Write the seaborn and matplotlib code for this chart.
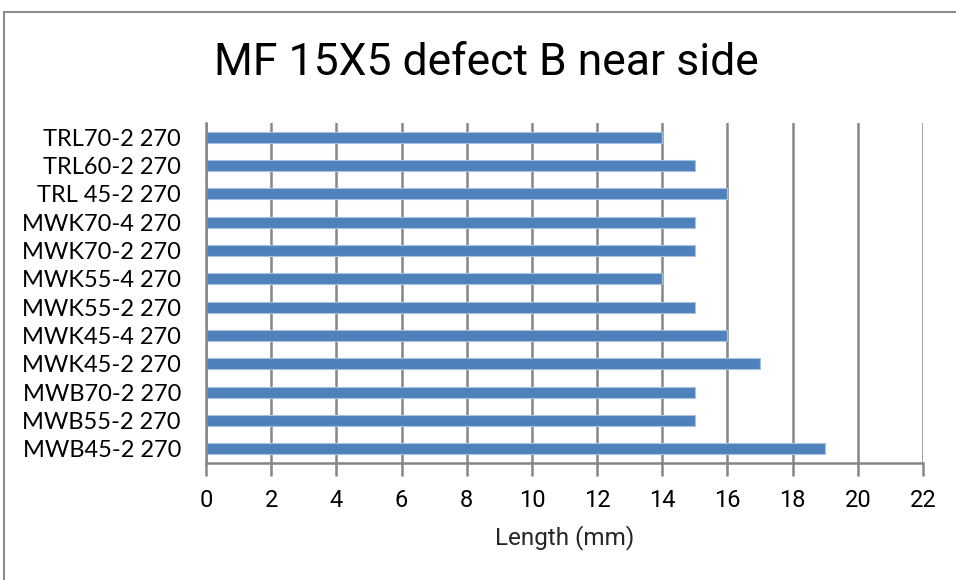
import matplotlib
matplotlib.use("Agg")
import matplotlib.pyplot as plt
from matplotlib.patches import Rectangle
import seaborn as sns
import pandas as pd

categories = ["TRL70-2 270", "TRL60-2 270", "TRL 45-2 270", "MWK70-4 270",
              "MWK70-2 270", "MWK55-4 270", "MWK55-2 270", "MWK45-4 270",
              "MWK45-2 270", "MWB70-2 270", "MWB55-2 270", "MWB45-2 270"]
lengths = [14, 15, 16, 15, 15, 14, 15, 16, 17, 15, 15, 19]
x_ticks = [0, 2, 4, 6, 8, 10, 12, 14, 16, 18, 20, 22]

sns.set_theme(style="white")
plt.rcParams["font.family"] = ["Lato", "DejaVu Sans"]
narrow = ["Roboto", "DejaVu Sans"]

df = pd.DataFrame({"label": categories, "length": lengths})

W, H = 956, 580
fig = plt.figure(figsize=(W / 100, H / 100), dpi=100)
ax = fig.add_axes([206 / W, 1 - 463 / H, (923 - 206) / W, (463 - 123) / H])

sns.barplot(data=df, x="length", y="label", orient="h", color="#4F81BD",
            saturation=1, width=0.39, edgecolor="#A9C0DE", linewidth=0.8,
            ax=ax, zorder=3)

grid_c = "#868686"
ax.set_xlim(0, 22)
ax.set_xticks(x_ticks)
ax.set_xticklabels([str(t) for t in x_ticks], fontfamily=narrow, fontsize=17)
ax.xaxis.grid(True, color=grid_c, linewidth=1.8, zorder=0)
ax.yaxis.grid(False)
for s in ["top", "right"]:
    ax.spines[s].set_visible(False)
ax.spines["left"].set_color(grid_c)
ax.spines["left"].set_linewidth(1.8)
ax.spines["bottom"].set_color(grid_c)
ax.spines["bottom"].set_linewidth(1.8)
ax.spines["left"].set_zorder(4)
ax.tick_params(axis="x", bottom=True, length=9, width=1.8, color=grid_c,
               direction="out", pad=10, labelcolor="black")
ax.tick_params(axis="y", left=False, pad=12, labelsize=17, labelcolor="black")
ax.set_ylabel("")
ax.set_xlabel("Length (mm)", fontfamily=narrow, fontsize=17.5, labelpad=9)

fig.text(486 / W, 1 - 63 / H, "MF 15X5 defect B near side", ha="center",
         va="center", fontsize=32, fontfamily=narrow, color="black")

fig.patches.append(Rectangle((4 / W, -0.05), 1.2, 1 - 12 / H + 0.05,
                             transform=fig.transFigure, fill=False,
                             edgecolor="#8C8C8C", linewidth=1.5))

fig.savefig("out.png", dpi=100)
